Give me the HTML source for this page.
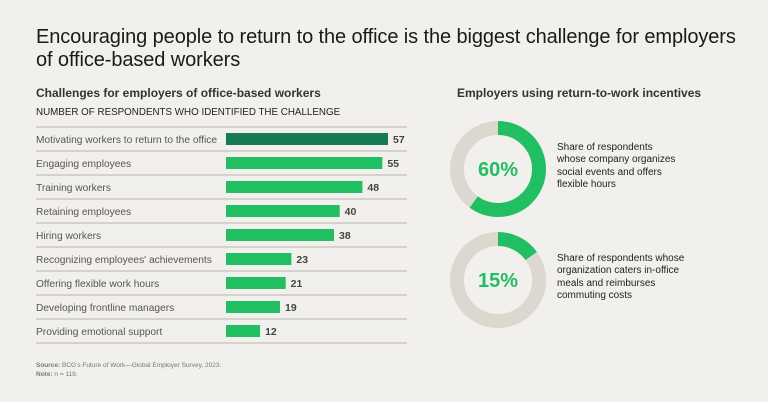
<!DOCTYPE html>
<html><head><meta charset="utf-8"><style>
body{margin:0;width:768px;height:402px;background:#f2f0ec;font-family:"Liberation Sans",sans-serif;overflow:hidden;position:relative}
.t{position:absolute;color:#222}
</style></head><body>
<div class="t" style="left:36px;top:26px;font-size:20px;line-height:23px;color:#1a1a1a;width:730px;letter-spacing:-0.1px;white-space:nowrap">Encouraging people to return to the office is the biggest challenge for employers<br>of office-based workers</div>
<div class="t" style="left:36px;top:86px;font-size:12px;font-weight:bold;color:#333">Challenges for employers of office-based workers</div>
<div class="t" style="left:36px;top:107px;font-size:9.8px;color:#222">NUMBER OF RESPONDENTS WHO IDENTIFIED THE CHALLENGE</div>
<div class="t" style="left:457px;top:86px;font-size:12px;font-weight:bold;color:#333">Employers using return-to-work incentives</div>
<svg id="bars" width="768" height="402" style="position:absolute;left:0;top:0"></svg>
<div class="t" style="left:36px;top:361px;font-size:6.5px;color:#777;line-height:9px"><b>Source:</b> BCG's Future of Work—Global Employer Survey, 2023.<br><b>Note:</b> n = 119.</div>
<script>
const categories=["Motivating workers to return to the office","Engaging employees","Training workers","Retaining employees","Hiring workers","Recognizing employees' achievements","Offering flexible work hours","Developing frontline managers","Providing emotional support"];
const values=[57,55,48,40,38,23,21,19,12];
const donutValues=[60,15];
const donutLabels=["Share of respondents whose company organizes social events and offers flexible hours","Share of respondents whose organization caters in-office meals and reimburses commuting costs"];
const NS="http://www.w3.org/2000/svg";
const svg=document.getElementById('bars');
const x0=226,scale=162/57,rowTop=127,rowH=24;
const xs=v=>v*scale;
function mk(t,a){const e=document.createElementNS(NS,t);for(const k in a)e.setAttribute(k,a[k]);svg.appendChild(e);return e;}
for(let i=0;i<=categories.length;i++){
 const l=mk('line',{x1:36,x2:407,y1:rowTop+i*rowH,y2:rowTop+i*rowH,stroke:'#b8b5b0','stroke-width':1});
 
 
}
categories.forEach((c,i)=>{
 const cy=rowTop+i*rowH+rowH/2;
 const tx=mk('text',{x:36,y:cy+4,'font-size':10.2,fill:'#555','font-family':'Liberation Sans, sans-serif'});tx.textContent=c;
 
 
 const r=mk('rect',{x:x0,y:cy-6,width:xs(values[i]),height:12,fill:i==0?'#197a56':'#21bf61'});
 
 
 const v=mk('text',{x:x0+xs(values[i])+5,y:cy+4,'font-size':10.5,'font-weight':'bold',fill:'#444','font-family':'Liberation Sans, sans-serif'});v.textContent=values[i];
 
 
});
const centers=[169,280],cx=498,R=41,W=14;
donutValues.forEach((p,i)=>{
 const cy=centers[i];
 const bg=mk('circle',{cx:cx,cy:cy,r:R,fill:'none',stroke:'#dcd8d0','stroke-width':W});
 
 
 const C=2*Math.PI*R;
 const arc=mk('circle',{cx:cx,cy:cy,r:R,fill:'none',stroke:'#21bf61','stroke-width':W,'stroke-dasharray':(C*p/100)+' '+C,transform:`rotate(-90 ${cx} ${cy})`});
 
 
 const t=mk('text',{x:cx,y:cy+7,'text-anchor':'middle','font-size':20,'font-weight':'bold',fill:'#21bf61','font-family':'Liberation Sans, sans-serif'});t.textContent=p+'%';
 
 
 const d=document.createElement('div');d.className='t';
 
 
 d.style.cssText=`left:557px;top:${cy-27}px;width:${i==0?125:135}px;font-size:10px;line-height:12.3px;color:#222`;
 d.textContent=donutLabels[i];document.body.appendChild(d);
});
</script>
</body></html>
